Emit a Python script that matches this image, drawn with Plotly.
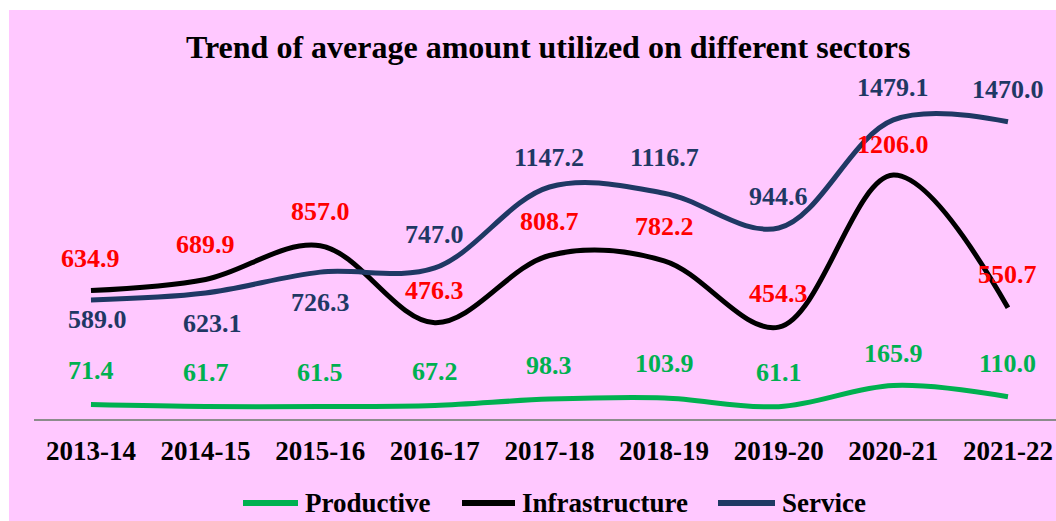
import plotly.graph_objects as go

# ---- data ----
years = ["2013-14", "2014-15", "2015-16", "2016-17", "2017-18",
         "2018-19", "2019-20", "2020-21", "2021-22"]
productive = [71.4, 61.7, 61.5, 67.2, 98.3, 103.9, 61.1, 165.9, 110.0]
infrastructure = [634.9, 689.9, 857.0, 476.3, 808.7, 782.2, 454.3, 1206.0, 550.7]
service = [589.0, 623.1, 726.3, 747.0, 1147.2, 1116.7, 944.6, 1479.1, 1470.0]
series_names = ["Productive", "Infrastructure", "Service"]
title_text = "Trend of average amount utilized on different sectors"

# ---- style ----
W, H = 1056, 521
L, R, T, B = 34, 1056, 55, 419          # plot area in pixels
PINK = "#FFC8FF"
GREEN = "#00B050"
BLACK = "#000000"
NAVY = "#1F3864"
RED = "#FF0000"
FONT = "Liberation Serif"

# label offsets (px, positive = up) per point
prod_shift = [34, 34, 34, 34, 34, 34, 34, 32, 33]
infra_shift = [32, 35, 34, 32, 34, 34, 34, 31, 33]
serv_shift = [-20, -30, -30, 33, 30, 36, 31, 32, 32]
serv_xshift = [7, 7, 0, 0, 0, 0, 0, 0, 0]


def px(xp):
    return (xp - L) / (R - L)


def py(yp):
    return (B - yp) / (B - T)


fig = go.Figure()
for name, vals, col in [("Productive", productive, GREEN),
                        ("Infrastructure", infrastructure, BLACK),
                        ("Service", service, NAVY)]:
    fig.add_trace(go.Scatter(
        x=years, y=vals, name=name, mode="lines",
        line=dict(color=col, width=5, shape="spline", smoothing=1.0),
        hoverinfo="x+y+name"))

ann = []
for vals, shifts, col, xs in [(productive, prod_shift, GREEN, [0] * 9),
                              (infrastructure, infra_shift, RED, [0] * 9),
                              (service, serv_shift, NAVY, serv_xshift)]:
    for yr, v, s, xsh in zip(years, vals, shifts, xs):
        ann.append(dict(x=yr, y=v, text=f"<b>{v:.1f}</b>", showarrow=False,
                        xanchor="center", yanchor="middle",
                        yshift=s, xshift=xsh,
                        font=dict(family=FONT, size=26, color=col)))

# title
ann.append(dict(xref="paper", yref="paper", x=px(548), y=py(47),
                text=f"<b>{title_text}</b>", showarrow=False,
                xanchor="center", yanchor="middle",
                font=dict(family=FONT, size=32, color="black")))

# background panel and manual legend
shapes = [dict(type="rect", xref="paper", yref="paper",
               x0=px(9), x1=px(1070), y0=py(540), y1=py(10),
               fillcolor=PINK, line=dict(width=0), layer="below")]
legend_items = [(243, 298, 303, GREEN), (462, 515, 520, BLACK), (718, 775, 780, NAVY)]
for (x0, x1, xt, col), nm in zip(legend_items, series_names):
    shapes.append(dict(type="line", xref="paper", yref="paper",
                       x0=px(x0), x1=px(x1), y0=py(503), y1=py(503),
                       line=dict(color=col, width=6)))
    ann.append(dict(xref="paper", yref="paper", x=px(xt), y=py(503),
                    text=f"<b>{nm}</b>", showarrow=False,
                    xanchor="left", yanchor="middle",
                    font=dict(family=FONT, size=27, color="black")))

fig.update_layout(
    width=W, height=H,
    margin=dict(l=L, r=W - R, t=T, b=H - B, pad=0),
    paper_bgcolor="white", plot_bgcolor="rgba(0,0,0,0)",
    showlegend=False,
    annotations=ann, shapes=shapes,
    xaxis=dict(type="category", range=[-0.497, 8.419],
               showgrid=False, zeroline=False,
               showline=True, linecolor="#8C8C8C", linewidth=1.5,
               ticks="outside", ticklen=7, tickcolor="rgba(0,0,0,0)",
               tickfont=dict(family=FONT, size=27, color="black"),
               tickprefix="<b>", ticksuffix="</b>"),
    yaxis=dict(range=[0, 1800], visible=False, showgrid=False, zeroline=False),
)

fig.write_html("out.html", config={"displayModeBar": False},
               post_script="document.body.style.margin='0';document.body.style.overflow='hidden';")
